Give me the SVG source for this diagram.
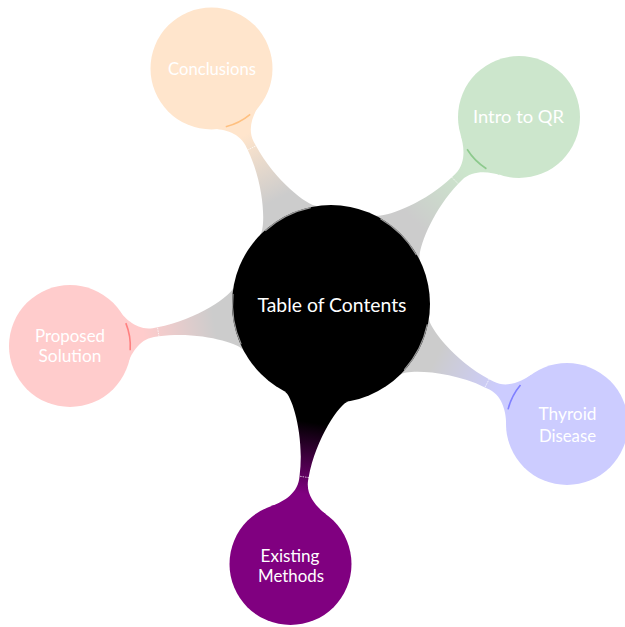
<svg xmlns="http://www.w3.org/2000/svg" width="625" height="627" viewBox="0 0 625 627">
<style>
.lbl{font-family:Lato,"Open Sans","DejaVu Sans",sans-serif;fill:#ffffff;text-anchor:middle}
.c18{font-size:18px}
.c20{font-size:20px}
.tick{stroke:#ffffff;stroke-width:0.8;stroke-dasharray:1.5 1;fill:none;opacity:0.85}
.rim{fill:none;stroke-width:1.6}
.prim{fill:none;stroke:#9a9a9a;stroke-width:1.2}
</style>
<defs>
<linearGradient id="gG" gradientUnits="userSpaceOnUse" x1="118" y1="0" x2="190" y2="0"><stop offset="0" stop-color="#cccccc"/><stop offset="1" stop-color="#cce6cc"/></linearGradient>
<linearGradient id="gB" gradientUnits="userSpaceOnUse" x1="118" y1="0" x2="190" y2="0"><stop offset="0" stop-color="#cccccc"/><stop offset="1" stop-color="#ccccff"/></linearGradient>
<linearGradient id="gP" gradientUnits="userSpaceOnUse" x1="120" y1="0" x2="192" y2="0"><stop offset="0" stop-color="#000000"/><stop offset="1" stop-color="#800080"/></linearGradient>
<linearGradient id="gR" gradientUnits="userSpaceOnUse" x1="118" y1="0" x2="190" y2="0"><stop offset="0" stop-color="#cccccc"/><stop offset="1" stop-color="#ffcccc"/></linearGradient>
<linearGradient id="gO" gradientUnits="userSpaceOnUse" x1="118" y1="0" x2="190" y2="0"><stop offset="0" stop-color="#cccccc"/><stop offset="1" stop-color="#ffe5cc"/></linearGradient>
<path id="bar265" d="M93.7,-32 C96.3,-24.4 135,-5.5 175,-4.6 L180,-4.5 C196,-4.5 206.2,-19.1 210.8,-28 L210.8,28 C206.2,19.1 196,4.5 180,4.5 L175,4.6 C135,5.5 96.3,24.4 93.7,32 Z"/>
<path id="bar263" d="M93.7,-32 C96.3,-24.4 135,-5.5 175,-4.6 L178,-4.5 C194,-4.5 204.2,-19.1 208.8,-28 L208.8,28 C204.2,19.1 194,4.5 178,4.5 L175,4.6 C135,5.5 96.3,24.4 93.7,32 Z"/>
</defs>

<g id="connectors">
  <g transform="translate(331 304) rotate(-44.85)">
    <use href="#bar265" fill="url(#gG)"/>
    <line class="tick" x1="175" y1="-5" x2="175" y2="5"/>
  </g>
  <g transform="translate(331 304) rotate(26.95)">
    <use href="#bar265" fill="url(#gB)"/>
    <line class="tick" x1="175" y1="-5" x2="175" y2="5"/>
  </g>
  <g transform="translate(331 304) rotate(98.85)">
    <use href="#bar263" fill="url(#gP)"/>
    <line class="tick" x1="175" y1="-5" x2="175" y2="5"/>
  </g>
  <g transform="translate(331 304) rotate(170.86)">
    <use href="#bar265" fill="url(#gR)"/>
    <line class="tick" x1="175" y1="-5" x2="175" y2="5"/>
  </g>
  <g transform="translate(331 304) rotate(243.1)">
    <use href="#bar265" fill="url(#gO)"/>
    <line class="tick" x1="175" y1="-5" x2="175" y2="5"/>
  </g>
</g>

<g id="root">
  <circle cx="331" cy="304" r="99" fill="#000000"/>
  <text class="lbl c20" x="332" y="311.5" textLength="149" lengthAdjust="spacingAndGlyphs">Table of Contents</text>
</g>
<g id="intro">
  <circle cx="519" cy="117" r="61" fill="#cce6cc"/>
  <text class="lbl c18" x="518.5" y="123" textLength="91" lengthAdjust="spacingAndGlyphs">Intro to QR</text>
</g>
<g id="thyroid">
  <circle cx="567" cy="424" r="61" fill="#ccccff"/>
  <text class="lbl c18" x="567.5" y="420" textLength="58" lengthAdjust="spacingAndGlyphs">Thyroid</text>
  <text class="lbl c18" x="567.5" y="441.5" textLength="57" lengthAdjust="spacingAndGlyphs">Disease</text>
</g>
<g id="existing">
  <circle cx="290.5" cy="564" r="61" fill="#800080"/>
  <text class="lbl c18" x="290" y="561.5" textLength="59" lengthAdjust="spacingAndGlyphs">Existing</text>
  <text class="lbl c18" x="291" y="582" textLength="66" lengthAdjust="spacingAndGlyphs">Methods</text>
</g>
<g id="proposed">
  <circle cx="70" cy="346" r="61" fill="#ffcccc"/>
  <text class="lbl c18" x="70" y="341.5" textLength="70" lengthAdjust="spacingAndGlyphs">Proposed</text>
  <text class="lbl c18" x="70" y="362" textLength="63" lengthAdjust="spacingAndGlyphs">Solution</text>
</g>
<g id="conclusions">
  <circle cx="211.5" cy="68.5" r="61" fill="#ffe5cc"/>
  <text class="lbl c18" x="212" y="75" textLength="88" lengthAdjust="spacingAndGlyphs">Conclusions</text>
</g>

<g id="connector-rims">
  <g transform="translate(331 304) rotate(-44.85)">
    <path class="prim" d="M95.1,-25.5 A98.5 98.5 0 0 1 95.1,25.5"/>
    <path class="rim" stroke="#8cc98c" d="M205.6,-13.7 A60.8 60.8 0 0 0 205.6,13.7"/>
  </g>
  <g transform="translate(331 304) rotate(26.95)">
    <path class="prim" d="M95.1,-25.5 A98.5 98.5 0 0 1 95.1,25.5"/>
    <path class="rim" stroke="#8080ff" d="M205.6,-13.7 A60.8 60.8 0 0 0 205.6,13.7"/>
  </g>
  <g transform="translate(331 304) rotate(170.86)">
    <path class="prim" d="M95.1,-25.5 A98.5 98.5 0 0 1 95.1,25.5"/>
    <path class="rim" stroke="#ff8080" d="M205.6,-13.7 A60.8 60.8 0 0 0 205.6,13.7"/>
  </g>
  <g transform="translate(331 304) rotate(243.1)">
    <path class="prim" d="M95.1,-25.5 A98.5 98.5 0 0 1 95.1,25.5"/>
    <path class="rim" stroke="#ffc080" d="M205.6,-13.7 A60.8 60.8 0 0 0 205.6,13.7"/>
  </g>
</g>
</svg>
